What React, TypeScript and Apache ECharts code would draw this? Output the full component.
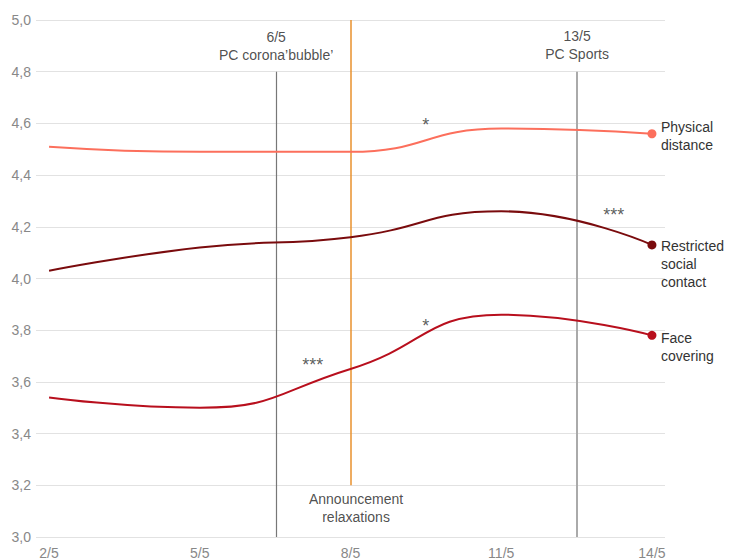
import React, { useEffect, useRef } from "react";
import * as echarts from "echarts";

const days = [2, 5, 8, 11, 14];
const xLabelDays = [2, 5, 8, 11, 14];
const seriesNames = ["Physical\ndistance", "Restricted\nsocial\ncontact", "Face\ncovering"];
const physicalDistance = [4.51, 4.49, 4.49, 4.58, 4.56];
const restrictedContact = [4.03, 4.12, 4.16, 4.26, 4.13];
const faceCovering = [3.54, 3.5, 3.65, 3.86, 3.78];

const eventDays = [6.52, 8, 12.5];
const eventTexts = ["6/5\nPC corona\u2019bubble\u2019", "Announcement\nrelaxations", "13/5\nPC Sports"];
const eventTextPos = [
  [6.52, 4.898],
  [8.11, 3.112],
  [12.51, 4.902],
];
const starTexts = ["*", "***", "*", "***"];
const starPos = [
  [9.5, 4.593],
  [13.24, 4.245],
  [9.5, 3.816],
  [7.25, 3.666],
];

const FONT = "'Liberation Sans', Arial, Helvetica, sans-serif";

export default function App() {
  const ref = useRef<HTMLDivElement>(null);
  useEffect(() => {
    document.body.style.margin = "0";
    const chart = echarts.init(ref.current!, null, { renderer: "svg" });
    const colors = ["#fc6f5c", "#7a0b0d", "#b80f1d"];
    const labelOffsets = [
      [0, 2],
      [0, 19],
      [0, 12],
    ];
    const lineSeries = [physicalDistance, restrictedContact, faceCovering].map((vals, si) => ({
      type: "line",
      name: seriesNames[si],
      data: vals.map((v, i) => [days[i], v]),
      smooth: 0.5,
      symbol: "circle",
      showSymbol: true,
      symbolSize: (_v: any, p: any) => (p.dataIndex === vals.length - 1 ? 9 : 0),
      lineStyle: { color: colors[si], width: 2 },
      itemStyle: { color: colors[si] },
      z: 5,
      endLabel: {
        show: true,
        formatter: seriesNames[si],
        color: "#333",
        fontSize: 14,
        lineHeight: 18,
        fontFamily: FONT,
        distance: 9,
        offset: labelOffsets[si],
      },
      silent: true,
    }));

    const markLineData = [
      [
        { coord: [eventDays[0], 4.8], lineStyle: { color: "#777", width: 1.2, type: "solid" } },
        { coord: [eventDays[0], 3.0] },
      ],
      [
        { coord: [eventDays[1], 5.0], lineStyle: { color: "#e8902c", width: 1.5, type: "solid" } },
        { coord: [eventDays[1], 3.2] },
      ],
      [
        { coord: [eventDays[2], 4.8], lineStyle: { color: "#aaa", width: 2, type: "solid" } },
        { coord: [eventDays[2], 3.0] },
      ],
    ];

    const annotSeries = {
      type: "scatter",
      symbolSize: 0,
      silent: true,
      z: 4,
      data: [
        ...eventTexts.map((t, i) => ({ value: [eventTextPos[i][0], eventTextPos[i][1]], name: t })),
        ...starTexts.map((t, i) => ({
          value: [starPos[i][0], starPos[i][1]],
          name: t,
          label: { fontSize: 18, color: "#333" },
        })),
      ],
      label: {
        show: true,
        position: "inside",
        formatter: (p: any) => p.name,
        color: "#222",
        fontSize: 14,
        lineHeight: 18,
        fontFamily: FONT,
        align: "center",
        verticalAlign: "middle",
      },
      markLine: {
        symbol: "none",
        silent: true,
        label: { show: false },
        lineStyle: { type: "solid" },
        data: markLineData,
      },
    };

    chart.setOption({
      animation: false,
      textStyle: { fontFamily: FONT },
      grid: { left: 36, right: 69, top: 20, bottom: 22, containLabel: false },
      xAxis: {
        type: "value",
        min: 1.74,
        max: 14.26,
        axisLine: { show: false },
        axisTick: { show: false },
        splitLine: { show: false },
        axisLabel: {
          customValues: xLabelDays,
          formatter: (v: number) => `${v}/5`,
          color: "#888",
          fontSize: 14,
          margin: 9,
          fontFamily: FONT,
        },
      },
      yAxis: {
        type: "value",
        min: 3,
        max: 5,
        interval: 0.2,
        axisLine: { show: false },
        axisTick: { show: false },
        splitLine: { lineStyle: { color: "#e2e2e2", width: 1 } },
        axisLabel: {
          formatter: (v: number) => v.toFixed(1).replace(".", ","),
          color: "#888",
          fontSize: 14,
          margin: 5,
          fontFamily: FONT,
        },
      },
      series: [...lineSeries, annotSeries],
    });
    return () => chart.dispose();
  }, []);
  return <div ref={ref} style={{ width: 734, height: 560 }} />;
}
